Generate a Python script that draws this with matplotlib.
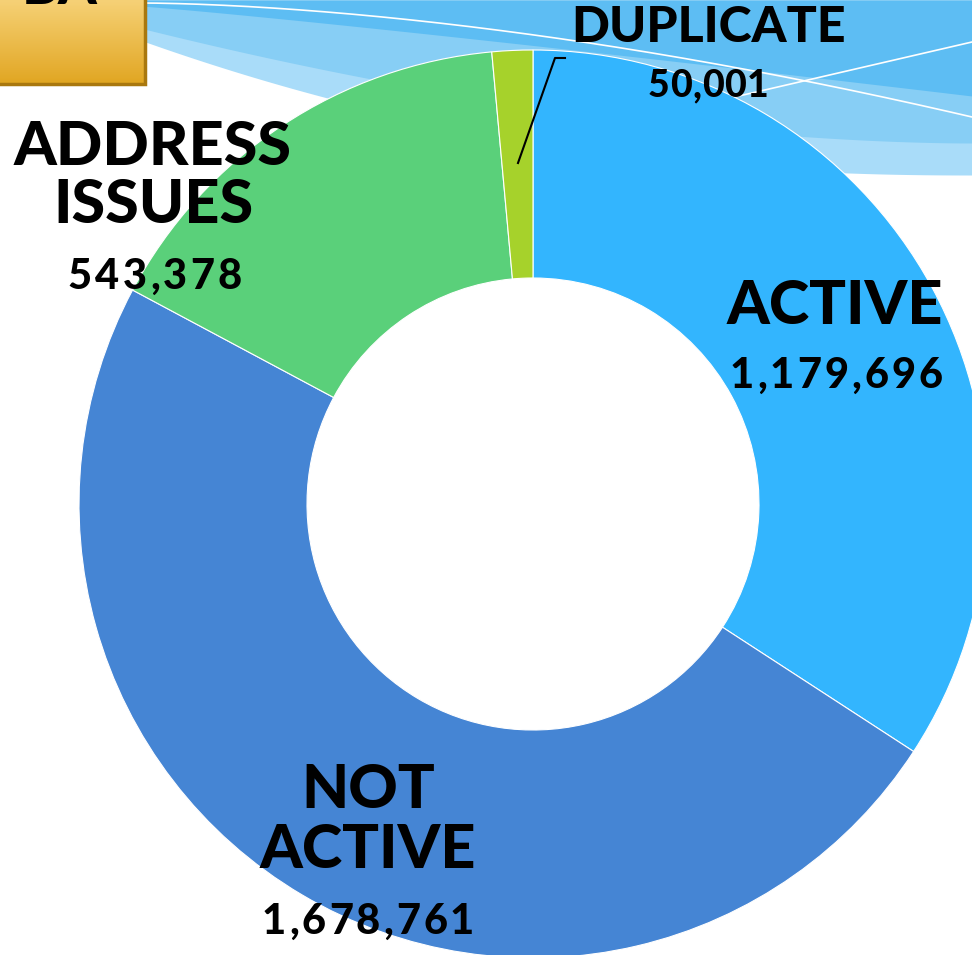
import numpy as np
import matplotlib.pyplot as plt
from matplotlib.patches import Rectangle
from matplotlib.colors import LinearSegmentedColormap

labels = ['ACTIVE', 'NOT\nACTIVE', 'ADDRESS\nISSUES', 'DUPLICATE']
counts = [1179696, 1678761, 543378, 50001]
colors = ['#33b5fe', '#4585d4', '#5ad07a', '#a6d22b']

W, H = 972, 955
fig = plt.figure(figsize=(W / 100, H / 100), dpi=100)
ax = fig.add_axes([0, 0, 1, 1])

# donut, pixel coordinates with y pointing down
ax.pie(counts, colors=colors, startangle=-90, counterclock=True,
       center=(533, 504), radius=454,
       wedgeprops=dict(width=228, edgecolor='white', linewidth=0.8, zorder=3))
ax.set_xlim(0, W)
ax.set_ylim(H, 0)
ax.set_aspect('equal')
ax.axis('off')

# slide decoration: blue swooshes at top right
xs = np.linspace(140, W, 200)
t = (xs - 140) / (W - 140)
ax.fill_between(xs, 0, 40 + 135 * (1 - (1 - t) ** 2.2), color='#a9dcf9', zorder=1, lw=0)
ax.fill_between(xs, 0, 28 + 115 * (1 - (1 - t) ** 1.8), color='#87cef5', zorder=1, lw=0)
ax.fill_between(xs, 0, 6 + 90 * t ** 1.1, color='#5dbdf3', zorder=1, lw=0)
ax.plot(xs, 3 + 114 * t ** 1.7, color='white', lw=1.2, zorder=2)
xs2 = np.linspace(700, W, 50)
ax.plot(xs2, 105 - 63 * (xs2 - 700) / (W - 700), color='white', lw=1.2, zorder=2)

# gold title box, cut off at the top
grad = np.linspace(0, 1, 100).reshape(-1, 1)
ax.imshow(grad, cmap=LinearSegmentedColormap.from_list('g', ['#f6d176', '#e1a622']),
          extent=(0, 145, 84, 0), aspect='auto', zorder=4)
ax.add_patch(Rectangle((-5, -5), 150, 89, fill=False, edgecolor='#a9780f', lw=2.5, zorder=5))
ax.text(22, -12, 'BA', fontsize=40, fontweight='black', family='Lato', ha='left', va='center', zorder=6)
ax.set_xlim(0, W)
ax.set_ylim(H, 0)

font = dict(family='Lato', fontweight='black', color='black', va='center', zorder=6)
renderer = fig.canvas.get_renderer()


def spaced(x, y, s, size, track):
    # centred text with extra letter spacing (pixels == data units here)
    parts = [ax.text(0, y, ch, fontsize=size, ha='left', **font) for ch in s]
    widths = [p.get_window_extent(renderer).width for p in parts]
    left = x - (sum(widths) + track * (len(s) - 1)) / 2
    for p, w in zip(parts, widths):
        p.set_x(left)
        left += w + track


ax.text(835, 306, 'ACTIVE', fontsize=44, ha='center', **font)
spaced(836, 376, f'{counts[0]:,}', 30, 3)
ax.text(368, 820, 'NOT\nACTIVE', fontsize=44, linespacing=1.1, ha='center', **font)
spaced(368, 922, f'{counts[1]:,}', 30, 3)
ax.text(153, 176, 'ADDRESS\nISSUES', fontsize=44, linespacing=1.05, ha='center', **font)
spaced(155, 277, f'{counts[2]:,}', 30, 3.3)
ax.text(708, 28, 'DUPLICATE', fontsize=36, ha='center', **font)
spaced(708, 86, f'{counts[3]:,}', 27, 0.5)

# leader line for the small slice
ax.plot([518, 555, 565], [163, 58, 58], color='black', lw=1.5, zorder=6)

fig.savefig('out.png', dpi=100)
